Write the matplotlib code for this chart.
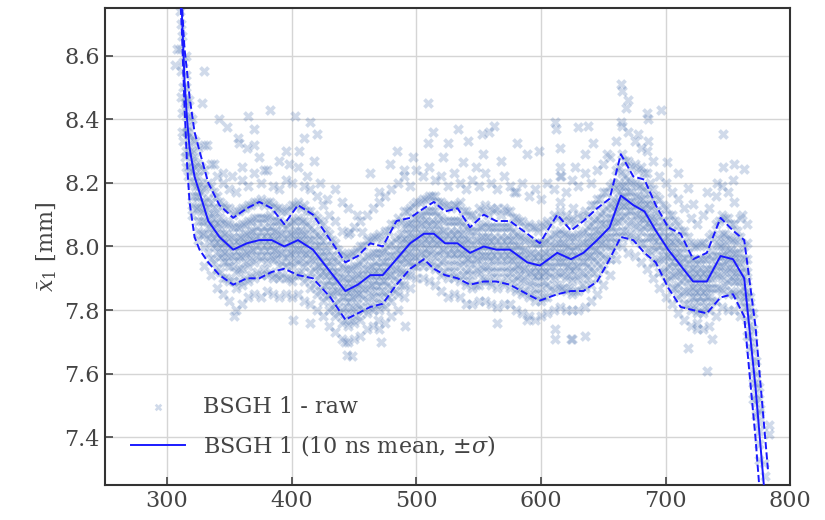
""" Grafica de x1 medio vs tiempo: datos crudos + media movil de 10 ns """

import matplotlib
matplotlib.use("Agg")
import matplotlib.pyplot as plt
import numpy as np

# media movil (10 ns) y +/- sigma
T_MEDIA = [311, 312, 313, 314, 316, 318, 322, 326, 333, 342, 353, 364, 374, 384,
           394, 405, 417, 431, 443, 453, 463, 473, 484, 495, 506, 514, 523, 533,
           543, 554, 564, 575, 589, 599, 613, 624, 634, 645, 655, 664, 674, 683,
           692, 702, 712, 722, 733, 744, 754, 763, 772, 782]
MEDIA = [8.80, 8.72, 8.62, 8.52, 8.40, 8.31, 8.22, 8.17, 8.08, 8.03, 7.99, 8.01,
         8.02, 8.02, 8.00, 8.02, 7.99, 7.92, 7.86, 7.88, 7.91, 7.91, 7.96, 8.01,
         8.04, 8.04, 8.01, 8.01, 7.98, 8.00, 7.99, 7.99, 7.95, 7.94, 7.98, 7.96,
         7.98, 8.02, 8.06, 8.16, 8.13, 8.11, 8.05, 7.99, 7.94, 7.89, 7.89, 7.97,
         7.96, 7.90, 7.56, 7.10]
SUPERIOR = [8.85, 8.76, 8.68, 8.62, 8.55, 8.47, 8.36, 8.30, 8.20, 8.13, 8.09,
            8.12, 8.14, 8.12, 8.07, 8.13, 8.10, 8.02, 7.95, 7.97, 8.01, 8.00,
            8.08, 8.09, 8.12, 8.14, 8.11, 8.12, 8.06, 8.10, 8.08, 8.08, 8.04,
            8.01, 8.10, 8.05, 8.08, 8.12, 8.15, 8.29, 8.22, 8.21, 8.13, 8.06,
            8.04, 7.96, 7.98, 8.09, 8.05, 8.02, 7.75, 7.30]
INFERIOR = [8.75, 8.66, 8.55, 8.44, 8.26, 8.14, 8.03, 7.99, 7.95, 7.91, 7.88,
            7.90, 7.90, 7.92, 7.93, 7.91, 7.90, 7.84, 7.77, 7.79, 7.81, 7.82,
            7.88, 7.93, 7.96, 7.93, 7.91, 7.90, 7.88, 7.89, 7.89, 7.88, 7.85,
            7.83, 7.85, 7.86, 7.86, 7.89, 7.96, 8.03, 8.02, 7.98, 7.95, 7.87,
            7.81, 7.80, 7.79, 7.84, 7.85, 7.78, 7.40, 6.90]

# datos crudos: nube principal por columnas de tiempo (cada 5 ns)
T_NUBE = list(range(315, 780, 5))
Y_NUBE = [
  [8.30, 8.36, 8.41, 8.44, 8.47, 8.50, 8.54, 8.60, 8.25],
  [8.10, 8.16, 8.20, 8.24, 8.27, 8.30, 8.34, 8.40, 8.13],
  [8.02, 8.08, 8.12, 8.16, 8.19, 8.22, 8.26, 8.31, 8.05],
  [7.94, 8.00, 8.04, 8.08, 8.11, 8.14, 8.18, 8.24, 8.32],
  [7.91, 7.96, 8.01, 8.04, 8.07, 8.10, 8.14, 8.19, 8.26],
  [7.87, 7.93, 7.98, 8.01, 8.04, 8.07, 8.11, 8.16, 8.22],
  [7.85, 7.90, 7.95, 7.98, 8.01, 8.04, 8.08, 8.13, 8.20],
  [7.83, 7.89, 7.94, 7.97, 8.00, 8.03, 8.07, 8.12, 8.18],
  [7.80, 7.87, 7.92, 7.96, 7.99, 8.02, 8.06, 8.11, 8.17],
  [7.82, 7.88, 7.93, 7.97, 8.00, 8.03, 8.07, 8.12, 8.21],
  [7.84, 7.89, 7.94, 7.98, 8.01, 8.04, 8.08, 8.13, 8.19],
  [7.85, 7.90, 7.95, 7.99, 8.02, 8.05, 8.09, 8.14, 8.23],
  [7.84, 7.91, 7.96, 7.99, 8.02, 8.05, 8.09, 8.15, 8.20],
  [7.86, 7.91, 7.95, 7.99, 8.02, 8.05, 8.09, 8.14, 8.24],
  [7.85, 7.90, 7.96, 7.99, 8.02, 8.05, 8.08, 8.13, 8.19],
  [7.84, 7.90, 7.94, 7.98, 8.01, 8.04, 8.08, 8.12, 8.18],
  [7.85, 7.90, 7.94, 7.97, 8.00, 8.03, 8.06, 8.11, 8.21],
  [7.84, 7.89, 7.94, 7.98, 8.01, 8.04, 8.08, 8.13, 8.20],
  [7.85, 7.91, 7.95, 7.99, 8.02, 8.05, 8.09, 8.14, 8.25],
  [7.83, 7.89, 7.94, 7.98, 8.01, 8.04, 8.08, 8.13, 8.19],
  [7.82, 7.87, 7.92, 7.96, 7.99, 8.02, 8.06, 8.11, 8.18],
  [7.80, 7.85, 7.90, 7.94, 7.97, 8.00, 8.04, 8.09, 8.16],
  [7.78, 7.83, 7.88, 7.92, 7.95, 7.98, 8.02, 8.07, 8.13],
  [7.75, 7.80, 7.85, 7.89, 7.92, 7.95, 7.99, 8.04, 8.10],
  [7.73, 7.78, 7.82, 7.86, 7.89, 7.92, 7.96, 8.01, 8.08],
  [7.71, 7.76, 7.80, 7.84, 7.87, 7.90, 7.94, 7.98, 8.05],
  [7.70, 7.75, 7.79, 7.83, 7.86, 7.89, 7.93, 7.97, 8.04],
  [7.71, 7.76, 7.80, 7.84, 7.87, 7.90, 7.94, 7.98, 8.06],
  [7.72, 7.77, 7.81, 7.85, 7.88, 7.91, 7.95, 8.00, 8.08],
  [7.74, 7.79, 7.83, 7.87, 7.90, 7.93, 7.97, 8.02, 8.10],
  [7.75, 7.80, 7.84, 7.88, 7.91, 7.94, 7.98, 8.03, 8.12],
  [7.74, 7.80, 7.84, 7.88, 7.91, 7.94, 7.98, 8.04, 8.14],
  [7.76, 7.81, 7.85, 7.89, 7.92, 7.95, 7.99, 8.05, 8.16],
  [7.78, 7.83, 7.87, 7.91, 7.94, 7.97, 8.01, 8.07, 8.18],
  [7.80, 7.85, 7.89, 7.93, 7.96, 7.99, 8.03, 8.09, 8.20],
  [7.84, 7.88, 7.92, 7.96, 7.99, 8.02, 8.06, 8.11, 8.22],
  [7.87, 7.91, 7.95, 7.98, 8.01, 8.04, 8.07, 8.12, 8.19],
  [7.90, 7.94, 7.97, 8.00, 8.03, 8.06, 8.09, 8.14, 8.24],
  [7.90, 7.94, 7.98, 8.01, 8.04, 8.07, 8.10, 8.15, 8.22],
  [7.89, 7.94, 7.98, 8.01, 8.04, 8.07, 8.11, 8.16, 8.25],
  [7.88, 7.93, 7.97, 8.01, 8.04, 8.07, 8.11, 8.16, 8.21],
  [7.86, 7.91, 7.95, 7.99, 8.02, 8.05, 8.09, 8.14, 8.22],
  [7.84, 7.90, 7.94, 7.98, 8.01, 8.04, 8.08, 8.13, 8.19],
  [7.85, 7.90, 7.94, 7.98, 8.01, 8.04, 8.08, 8.13, 8.23],
  [7.84, 7.89, 7.94, 7.98, 8.01, 8.04, 8.08, 8.14, 8.20],
  [7.82, 7.88, 7.92, 7.96, 7.99, 8.02, 8.06, 8.11, 8.18],
  [7.82, 7.87, 7.91, 7.95, 7.98, 8.01, 8.05, 8.10, 8.21],
  [7.83, 7.88, 7.92, 7.96, 7.99, 8.02, 8.06, 8.12, 8.19],
  [7.83, 7.89, 7.93, 7.97, 8.00, 8.03, 8.07, 8.13, 8.23],
  [7.82, 7.88, 7.92, 7.96, 7.99, 8.02, 8.06, 8.12, 8.20],
  [7.81, 7.87, 7.92, 7.96, 7.99, 8.02, 8.06, 8.12, 8.18],
  [7.82, 7.88, 7.92, 7.96, 7.99, 8.02, 8.06, 8.12, 8.22],
  [7.82, 7.87, 7.92, 7.96, 7.99, 8.02, 8.06, 8.11, 8.19],
  [7.80, 7.86, 7.90, 7.94, 7.97, 8.00, 8.04, 8.09, 8.17],
  [7.79, 7.85, 7.89, 7.93, 7.96, 7.99, 8.03, 8.08, 8.20],
  [7.78, 7.84, 7.88, 7.92, 7.95, 7.98, 8.02, 8.07, 8.16],
  [7.77, 7.83, 7.87, 7.91, 7.94, 7.97, 8.01, 8.06, 8.18],
  [7.78, 7.83, 7.87, 7.91, 7.94, 7.97, 8.01, 8.07, 8.15],
  [7.79, 7.84, 7.88, 7.92, 7.95, 7.98, 8.02, 8.08, 8.20],
  [7.80, 7.86, 7.90, 7.94, 7.97, 8.00, 8.04, 8.10, 8.18],
  [7.81, 7.87, 7.91, 7.95, 7.98, 8.01, 8.05, 8.11, 8.22],
  [7.80, 7.86, 7.90, 7.94, 7.97, 8.00, 8.04, 8.10, 8.17],
  [7.80, 7.85, 7.89, 7.93, 7.96, 7.99, 8.03, 8.09, 8.21],
  [7.80, 7.86, 7.90, 7.94, 7.97, 8.00, 8.04, 8.10, 8.19],
  [7.81, 7.87, 7.91, 7.95, 7.98, 8.01, 8.05, 8.11, 8.23],
  [7.83, 7.88, 7.93, 7.97, 8.00, 8.03, 8.07, 8.13, 8.20],
  [7.85, 7.90, 7.95, 7.99, 8.02, 8.05, 8.09, 8.15, 8.24],
  [7.88, 7.93, 7.97, 8.01, 8.04, 8.07, 8.11, 8.17, 8.26],
  [7.91, 7.96, 8.00, 8.03, 8.06, 8.09, 8.13, 8.19, 8.28],
  [7.96, 8.01, 8.05, 8.08, 8.11, 8.14, 8.18, 8.24, 8.33],
  [8.00, 8.05, 8.09, 8.13, 8.16, 8.19, 8.23, 8.29, 8.38],
  [7.98, 8.03, 8.07, 8.11, 8.14, 8.17, 8.21, 8.27, 8.36],
  [7.97, 8.02, 8.06, 8.10, 8.13, 8.16, 8.20, 8.26, 8.33],
  [7.95, 8.01, 8.05, 8.09, 8.12, 8.15, 8.19, 8.25, 8.31],
  [7.93, 7.99, 8.03, 8.07, 8.10, 8.13, 8.17, 8.23, 8.30],
  [7.90, 7.95, 8.00, 8.03, 8.06, 8.09, 8.13, 8.18, 8.27],
  [7.87, 7.92, 7.96, 8.00, 8.03, 8.06, 8.10, 8.15, 8.22],
  [7.84, 7.89, 7.93, 7.97, 8.00, 8.03, 8.07, 8.12, 8.20],
  [7.82, 7.87, 7.91, 7.95, 7.98, 8.01, 8.05, 8.10, 8.17],
  [7.79, 7.84, 7.88, 7.92, 7.95, 7.98, 8.02, 8.07, 8.15],
  [7.77, 7.82, 7.86, 7.90, 7.93, 7.96, 8.00, 8.05, 8.12],
  [7.75, 7.80, 7.84, 7.87, 7.90, 7.93, 7.96, 8.01, 8.09],
  [7.74, 7.79, 7.83, 7.86, 7.89, 7.92, 7.95, 8.00, 8.07],
  [7.74, 7.79, 7.83, 7.86, 7.89, 7.92, 7.96, 8.01, 8.10],
  [7.75, 7.80, 7.84, 7.87, 7.90, 7.93, 7.97, 8.03, 8.12],
  [7.78, 7.83, 7.87, 7.91, 7.94, 7.97, 8.01, 8.07, 8.16],
  [7.81, 7.86, 7.90, 7.94, 7.97, 8.00, 8.04, 8.10, 8.19],
  [7.80, 7.85, 7.89, 7.93, 7.96, 7.99, 8.03, 8.09, 8.17],
  [7.80, 7.85, 7.89, 7.92, 7.95, 7.98, 8.02, 8.07, 8.14],
  [7.78, 7.83, 7.86, 7.89, 7.92, 7.95, 7.98, 8.03, 8.09],
  [7.72, 7.77, 7.81, 7.84, 7.86, 7.89, 7.92, 7.96, 8.01],
  [7.52, 7.57, 7.61, 7.64, 7.67, 7.70, 7.74, 7.79],
  [7.33, 7.38, 7.42, 7.45, 7.48, 7.52, 7.56],
]

# datos crudos: nucleo denso, columnas intermedias (317.5, 322.5, ...)
T_NUCLEO = [t + 2.5 for t in range(315, 775, 5)]
Y_NUCLEO = [
  [8.25, 8.29, 8.32, 8.35, 8.38, 8.41, 8.46],
  [8.12, 8.16, 8.19, 8.22, 8.25, 8.28, 8.33],
  [8.04, 8.08, 8.11, 8.14, 8.17, 8.20, 8.25],
  [7.98, 8.03, 8.06, 8.09, 8.12, 8.15, 8.20],
  [7.95, 8.00, 8.03, 8.06, 8.09, 8.12, 8.17],
  [7.92, 7.97, 8.00, 8.03, 8.06, 8.09, 8.14],
  [7.90, 7.95, 7.98, 8.01, 8.04, 8.07, 8.12],
  [7.89, 7.94, 7.97, 8.00, 8.03, 8.06, 8.10],
  [7.89, 7.93, 7.97, 8.00, 8.03, 8.06, 8.11],
  [7.90, 7.95, 7.98, 8.01, 8.04, 8.07, 8.12],
  [7.91, 7.96, 7.99, 8.02, 8.05, 8.08, 8.13],
  [7.92, 7.97, 8.00, 8.03, 8.06, 8.09, 8.14],
  [7.93, 7.97, 8.00, 8.03, 8.06, 8.09, 8.13],
  [7.92, 7.97, 8.00, 8.03, 8.06, 8.10, 8.14],
  [7.91, 7.96, 7.99, 8.02, 8.05, 8.08, 8.12],
  [7.91, 7.95, 7.98, 8.01, 8.04, 8.07, 8.11],
  [7.90, 7.95, 7.98, 8.01, 8.04, 8.07, 8.12],
  [7.91, 7.96, 7.99, 8.02, 8.05, 8.08, 8.13],
  [7.92, 7.96, 7.99, 8.02, 8.05, 8.08, 8.12],
  [7.90, 7.95, 7.98, 8.01, 8.04, 8.07, 8.11],
  [7.88, 7.93, 7.96, 7.99, 8.02, 8.05, 8.10],
  [7.86, 7.91, 7.94, 7.97, 8.00, 8.03, 8.08],
  [7.84, 7.88, 7.91, 7.94, 7.97, 8.00, 8.05],
  [7.81, 7.85, 7.88, 7.91, 7.94, 7.97, 8.02],
  [7.79, 7.83, 7.86, 7.89, 7.92, 7.95, 7.99],
  [7.77, 7.81, 7.84, 7.87, 7.90, 7.93, 7.97],
  [7.77, 7.81, 7.84, 7.87, 7.90, 7.93, 7.98],
  [7.78, 7.82, 7.85, 7.88, 7.91, 7.94, 7.99],
  [7.80, 7.84, 7.87, 7.90, 7.93, 7.96, 8.00],
  [7.81, 7.85, 7.88, 7.91, 7.94, 7.97, 8.02],
  [7.82, 7.86, 7.89, 7.92, 7.95, 7.98, 8.03],
  [7.82, 7.86, 7.89, 7.92, 7.95, 7.98, 8.02],
  [7.84, 7.88, 7.91, 7.94, 7.97, 8.00, 8.05],
  [7.86, 7.90, 7.93, 7.96, 7.99, 8.02, 8.07],
  [7.88, 7.92, 7.95, 7.98, 8.01, 8.04, 8.08],
  [7.91, 7.95, 7.98, 8.01, 8.04, 8.07, 8.11],
  [7.94, 7.97, 8.00, 8.03, 8.06, 8.09, 8.13],
  [7.95, 7.98, 8.01, 8.04, 8.07, 8.10, 8.14],
  [7.96, 7.99, 8.02, 8.05, 8.08, 8.11, 8.15],
  [7.95, 7.99, 8.02, 8.05, 8.08, 8.11, 8.16],
  [7.94, 7.98, 8.01, 8.04, 8.07, 8.10, 8.14],
  [7.92, 7.96, 7.99, 8.02, 8.05, 8.08, 8.13],
  [7.92, 7.96, 7.99, 8.02, 8.05, 8.08, 8.12],
  [7.91, 7.96, 7.99, 8.02, 8.05, 8.08, 8.13],
  [7.91, 7.95, 7.98, 8.01, 8.04, 8.07, 8.11],
  [7.89, 7.93, 7.96, 7.99, 8.02, 8.05, 8.10],
  [7.88, 7.93, 7.96, 7.99, 8.02, 8.05, 8.09],
  [7.90, 7.94, 7.97, 8.00, 8.03, 8.06, 8.11],
  [7.89, 7.94, 7.97, 8.00, 8.03, 8.06, 8.10],
  [7.90, 7.94, 7.97, 8.00, 8.03, 8.06, 8.11],
  [7.89, 7.94, 7.97, 8.00, 8.03, 8.06, 8.10],
  [7.90, 7.94, 7.97, 8.00, 8.03, 8.06, 8.11],
  [7.89, 7.93, 7.96, 7.99, 8.02, 8.05, 8.09],
  [7.87, 7.91, 7.94, 7.97, 8.00, 8.03, 8.08],
  [7.86, 7.90, 7.93, 7.96, 7.99, 8.02, 8.06],
  [7.85, 7.89, 7.92, 7.95, 7.98, 8.01, 8.06],
  [7.85, 7.89, 7.92, 7.95, 7.98, 8.01, 8.05],
  [7.84, 7.89, 7.92, 7.95, 7.98, 8.01, 8.06],
  [7.87, 7.91, 7.94, 7.97, 8.00, 8.03, 8.07],
  [7.88, 7.92, 7.95, 7.98, 8.01, 8.04, 8.09],
  [7.87, 7.92, 7.95, 7.98, 8.01, 8.04, 8.08],
  [7.87, 7.91, 7.94, 7.97, 8.00, 8.03, 8.08],
  [7.86, 7.91, 7.94, 7.97, 8.00, 8.03, 8.07],
  [7.88, 7.92, 7.95, 7.98, 8.01, 8.04, 8.09],
  [7.90, 7.94, 7.97, 8.00, 8.03, 8.06, 8.10],
  [7.92, 7.96, 7.99, 8.02, 8.05, 8.08, 8.13],
  [7.94, 7.98, 8.01, 8.04, 8.07, 8.10, 8.15],
  [7.96, 8.00, 8.03, 8.06, 8.09, 8.12, 8.17],
  [7.99, 8.03, 8.06, 8.09, 8.12, 8.15, 8.20],
  [8.03, 8.08, 8.11, 8.14, 8.17, 8.20, 8.25],
  [8.05, 8.10, 8.13, 8.16, 8.19, 8.22, 8.27],
  [8.04, 8.08, 8.11, 8.14, 8.17, 8.20, 8.25],
  [8.03, 8.07, 8.10, 8.13, 8.16, 8.19, 8.24],
  [8.01, 8.06, 8.09, 8.12, 8.15, 8.18, 8.23],
  [7.98, 8.03, 8.06, 8.09, 8.12, 8.15, 8.20],
  [7.95, 7.99, 8.02, 8.05, 8.08, 8.11, 8.16],
  [7.92, 7.96, 7.99, 8.02, 8.05, 8.08, 8.13],
  [7.90, 7.94, 7.97, 8.00, 8.03, 8.06, 8.10],
  [7.87, 7.91, 7.94, 7.97, 8.00, 8.03, 8.08],
  [7.85, 7.89, 7.92, 7.95, 7.98, 8.01, 8.05],
  [7.82, 7.86, 7.89, 7.92, 7.95, 7.98, 8.03],
  [7.81, 7.84, 7.87, 7.90, 7.93, 7.96, 8.00],
  [7.80, 7.84, 7.87, 7.90, 7.93, 7.96, 8.01],
  [7.81, 7.84, 7.87, 7.90, 7.93, 7.96, 8.00],
  [7.83, 7.87, 7.90, 7.93, 7.96, 7.99, 8.04],
  [7.87, 7.91, 7.94, 7.97, 8.00, 8.03, 8.08],
  [7.88, 7.92, 7.95, 7.98, 8.01, 8.04, 8.09],
  [7.86, 7.90, 7.93, 7.96, 7.99, 8.02, 8.07],
  [7.85, 7.89, 7.92, 7.95, 7.98, 8.01, 8.05],
  [7.81, 7.84, 7.87, 7.90, 7.93, 7.96, 8.00],
  [7.68, 7.72, 7.75, 7.78, 7.81, 7.84],
  [7.47, 7.51, 7.54, 7.57, 7.60, 7.64],
]

# datos crudos: pico inicial y puntos sueltos
T_SUELTOS = [306, 308, 310, 310, 311, 311, 311, 312, 312, 312, 313, 313, 313,
             314, 314, 316, 317,
             329.6, 328, 342, 348, 365, 370, 382.5, 402.6, 415, 420, 410, 357,
             358, 370, 364, 332, 338, 345, 352, 360, 374, 378, 390, 395, 398,
             406, 412, 418, 423, 428, 435, 440, 445, 447, 456, 452, 463, 479,
             484.5, 470, 490, 497, 509, 513, 509, 521, 525.5, 533, 537.5, 541,
             553, 553.6, 558, 562, 548, 568, 578, 581, 589, 598, 611, 612,
             615.5, 615.5, 616, 615, 626, 627.5, 630, 635.5, 638, 642, 653,
             664, 665, 670, 668, 664, 678, 685, 686, 686, 696, 701, 710, 717.5,
             722, 733.5, 741.5, 745.6, 745.6, 754.5, 754, 762.5, 761.6, 765.6,
             443, 448, 472, 491, 469, 565, 589, 611, 611, 624, 625, 635, 717.5,
             733.5, 725, 737, 354, 401, 415, 444,
             776, 782.5, 783, 778.5, 780]
Y_SUELTOS = [8.57, 8.62, 8.74, 8.62, 8.70, 8.55, 8.47, 8.66, 8.42, 8.36, 8.58,
             8.33, 8.50, 8.45, 8.28, 8.36, 8.22,
             8.55, 8.45, 8.40, 8.375, 8.41, 8.37, 8.43, 8.41, 8.39, 8.355, 8.34,
             8.34, 8.325, 8.32, 8.31, 8.32, 8.26, 8.23, 8.22, 8.25, 8.28, 8.24,
             8.27, 8.30, 8.26, 8.30, 8.22, 8.27, 8.20, 8.15, 8.18, 8.14, 8.12,
             8.045, 8.045, 8.10, 8.23, 8.26, 8.30, 8.17, 8.24, 8.28, 8.45, 8.36,
             8.325, 8.28, 8.325, 8.37, 8.265, 8.33, 8.355, 8.29, 8.36, 8.38,
             8.25, 8.27, 8.17, 8.325, 8.29, 8.30, 8.39, 8.37, 8.31, 8.25, 8.22,
             8.14, 8.12, 8.25, 8.375, 8.29, 8.38, 8.325, 8.29,
             8.51, 8.49, 8.46, 8.435, 8.39, 8.355, 8.42, 8.40, 8.33, 8.43,
             8.265, 8.23, 8.185, 8.135, 8.17, 8.20, 8.355, 8.25, 8.26, 8.21,
             8.245, 8.10, 8.07,
             7.70, 7.655, 7.70, 7.75, 7.77, 7.76, 7.77, 7.74, 7.71, 7.71, 7.71,
             7.72, 7.68, 7.61, 7.76, 7.71, 7.78, 7.77, 7.76, 7.66,
             7.49, 7.44, 7.41, 7.32, 7.28]

AZUL_CRUDO = "#4c72b0"
AZUL_LINEA = "#1a1aff"
GRIS_TEXTO = "#444444"


def grafica() -> None:
  plt.rcParams["font.family"] = "DejaVu Serif"
  plt.rcParams["mathtext.fontset"] = "dejavuserif"
  plt.rcParams["font.size"] = 16
  plt.rcParams["text.color"] = GRIS_TEXTO
  plt.rcParams["axes.labelcolor"] = GRIS_TEXTO
  plt.rcParams["xtick.color"] = GRIS_TEXTO
  plt.rcParams["ytick.color"] = GRIS_TEXTO

  t_crudo = ([t for t, col in zip(T_NUBE, Y_NUBE) for _ in col]
             + [t for t, col in zip(T_NUCLEO, Y_NUCLEO) for _ in col]
             + T_SUELTOS)
  y_crudo = ([y for col in Y_NUBE for y in col]
             + [y for col in Y_NUCLEO for y in col] + Y_SUELTOS)

  fig = plt.figure(figsize=(8.25, 5.2), dpi=100)
  ax = fig.add_axes([0.127, 0.067, 0.831, 0.918])

  ax.scatter(t_crudo, y_crudo, marker="X", s=60, color=AZUL_CRUDO,
             alpha=0.26, linewidths=0, label="BSGH 1 - raw", zorder=2)
  ax.plot(T_MEDIA, MEDIA, color=AZUL_LINEA, lw=1.4,
          label=r"BSGH 1 (10 ns mean, $\pm\sigma$)", zorder=3)
  ax.plot(T_MEDIA, SUPERIOR, "--", color=AZUL_LINEA, lw=1.4, zorder=3)
  ax.plot(T_MEDIA, INFERIOR, "--", color=AZUL_LINEA, lw=1.4, zorder=3)

  ax.set_xlim(250, 800)
  ax.set_ylim(7.25, 8.75)
  ax.set_xticks([300, 400, 500, 600, 700, 800])
  ax.set_yticks([7.4, 7.6, 7.8, 8.0, 8.2, 8.4, 8.6])
  ax.set_ylabel(r"$\bar{x}_1$ [mm]")
  ax.grid(True, color="#d5d5d5", lw=1, zorder=0)
  ax.set_axisbelow(True)
  ax.tick_params(direction="in", length=6, width=1.2, labelsize=16)
  for lado in ax.spines.values():
    lado.set_color("#333333")
    lado.set_linewidth(1.5)

  ax.legend(loc="lower left", frameon=False, fontsize=16, handlelength=2.4,
            borderaxespad=0.8, labelspacing=0.7, markerscale=0.7)

  fig.savefig("out.png", dpi=100)


if __name__ == "__main__":
  grafica()
